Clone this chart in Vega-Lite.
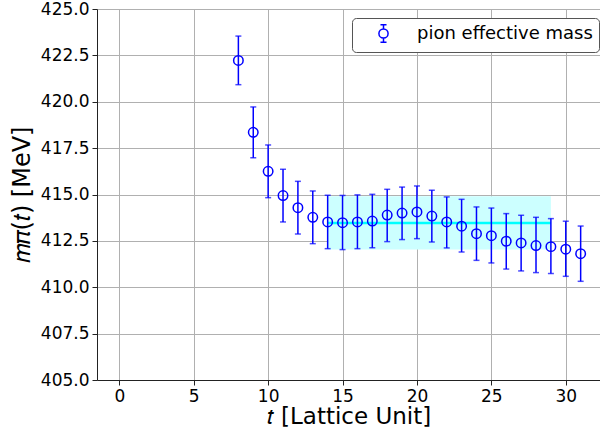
{
  "$schema": "https://vega.github.io/schema/vega-lite/v6.json",
  "autosize": "none",
  "width": 503,
  "height": 371,
  "padding": {"left": 97, "top": 9, "right": 0, "bottom": 50},
  "background": "white",
  "config": {
    "font": "DejaVu Sans",
    "view": {"stroke": null},
    "axis": {
      "labelFont": "DejaVu Sans",
      "titleFont": "DejaVu Sans",
      "labelFontSize": 17,
      "titleFontSize": 24,
      "titleFontWeight": "normal",
      "labelColor": "black",
      "titleColor": "black",
      "domainColor": "#222",
      "tickColor": "#222",
      "gridColor": "#b0b0b0",
      "gridWidth": 1,
      "tickSize": 5,
      "labelPadding": 3
    }
  },
  "datasets": {
    "pts": [
      {"t": 8, "m": 422.23, "lo": 420.92, "hi": 423.54, "series": "pion effective mass"},
      {"t": 9, "m": 418.35, "lo": 416.98, "hi": 419.72, "series": "pion effective mass"},
      {"t": 10, "m": 416.25, "lo": 414.83, "hi": 417.67, "series": "pion effective mass"},
      {"t": 11, "m": 414.94, "lo": 413.52, "hi": 416.36, "series": "pion effective mass"},
      {"t": 12, "m": 414.29, "lo": 412.87, "hi": 415.71, "series": "pion effective mass"},
      {"t": 13, "m": 413.77, "lo": 412.35, "hi": 415.19, "series": "pion effective mass"},
      {"t": 14, "m": 413.52, "lo": 412.08, "hi": 414.96, "series": "pion effective mass"},
      {"t": 15, "m": 413.48, "lo": 412.03, "hi": 414.95, "series": "pion effective mass"},
      {"t": 16, "m": 413.52, "lo": 412.08, "hi": 414.98, "series": "pion effective mass"},
      {"t": 17, "m": 413.57, "lo": 412.13, "hi": 415.01, "series": "pion effective mass"},
      {"t": 18, "m": 413.89, "lo": 412.46, "hi": 415.28, "series": "pion effective mass"},
      {"t": 19, "m": 414.0, "lo": 412.57, "hi": 415.4, "series": "pion effective mass"},
      {"t": 20, "m": 414.06, "lo": 412.62, "hi": 415.46, "series": "pion effective mass"},
      {"t": 21, "m": 413.84, "lo": 412.44, "hi": 415.23, "series": "pion effective mass"},
      {"t": 22, "m": 413.52, "lo": 412.12, "hi": 414.87, "series": "pion effective mass"},
      {"t": 23, "m": 413.29, "lo": 411.9, "hi": 414.74, "series": "pion effective mass"},
      {"t": 24, "m": 412.89, "lo": 411.45, "hi": 414.33, "series": "pion effective mass"},
      {"t": 25, "m": 412.78, "lo": 411.31, "hi": 414.27, "series": "pion effective mass"},
      {"t": 26, "m": 412.48, "lo": 410.98, "hi": 413.97, "series": "pion effective mass"},
      {"t": 27, "m": 412.39, "lo": 410.88, "hi": 413.88, "series": "pion effective mass"},
      {"t": 28, "m": 412.25, "lo": 410.79, "hi": 413.77, "series": "pion effective mass"},
      {"t": 29, "m": 412.19, "lo": 410.74, "hi": 413.7, "series": "pion effective mass"},
      {"t": 30, "m": 412.05, "lo": 410.59, "hi": 413.56, "series": "pion effective mass"},
      {"t": 31, "m": 411.81, "lo": 410.32, "hi": 413.3, "series": "pion effective mass"}
    ],
    "fit": [
      {"t0": 14, "t1": 29, "lo": 412.03, "hi": 414.9, "m": 413.47}
    ]
  },
  "layer": [
    {
      "data": {"name": "fit"},
      "mark": {"type": "rect", "fill": "#ccffff", "stroke": null},
      "encoding": {
        "x": {"field": "t0", "type": "quantitative", "scale": {"domain": [-1.5, 32.3], "nice": false, "zero": false},
          "axis": {"title": "𝑡 [Lattice Unit]", "values": [0, 5, 10, 15, 20, 25, 30], "grid": true, "titlePadding": 1, "titleFontSize": 23}},
        "x2": {"field": "t1"},
        "y": {"field": "lo", "type": "quantitative", "scale": {"domain": [405, 425], "nice": false, "zero": false},
          "axis": {"title": "𝑚𝜋(𝑡) [MeV]", "values": [405, 407.5, 410, 412.5, 415, 417.5, 420, 422.5, 425], "format": ".1f", "grid": true, "titlePadding": 6}},
        "y2": {"field": "hi"}
      }
    },
    {
      "data": {"name": "fit"},
      "mark": {"type": "rule", "color": "#00ffff", "strokeWidth": 2.5},
      "encoding": {
        "x": {"field": "t0", "type": "quantitative"},
        "x2": {"field": "t1"},
        "y": {"field": "m", "type": "quantitative"}
      }
    },
    {
      "data": {"name": "pts"},
      "mark": {"type": "rule", "color": "#0000ff", "strokeWidth": 1.5},
      "encoding": {
        "x": {"field": "t", "type": "quantitative"},
        "y": {"field": "lo", "type": "quantitative"},
        "y2": {"field": "hi"}
      }
    },
    {
      "data": {"name": "pts"},
      "mark": {"type": "tick", "orient": "horizontal", "color": "#0000ff", "thickness": 1.5, "size": 6},
      "encoding": {
        "x": {"field": "t", "type": "quantitative"},
        "y": {"field": "lo", "type": "quantitative"}
      }
    },
    {
      "data": {"name": "pts"},
      "mark": {"type": "tick", "orient": "horizontal", "color": "#0000ff", "thickness": 1.5, "size": 6},
      "encoding": {
        "x": {"field": "t", "type": "quantitative"},
        "y": {"field": "hi", "type": "quantitative"}
      }
    },
    {
      "data": {"name": "pts"},
      "mark": {"type": "point", "shape": "circle", "filled": false, "strokeWidth": 1.5, "size": 90, "opacity": 1},
      "encoding": {
        "x": {"field": "t", "type": "quantitative"},
        "y": {"field": "m", "type": "quantitative"},
        "color": {"field": "series", "type": "nominal", "scale": {"range": ["#0000ff"]},
          "legend": {
            "title": null,
            "orient": "none",
            "legendX": 255,
            "legendY": 9,
            "labelFontSize": 18,
            "labelFont": "DejaVu Sans",
            "labelColor": "black",
            "labelLimit": 400,
            "symbolOffset": 16,
            "labelOffset": 24,
            "symbolType": "M-0.53,0A0.53,0.53 0 1,1 0.53,0A0.53,0.53 0 1,1 -0.53,0M0,-0.53L0,-1M0,0.53L0,1M-0.35,-1L0.35,-1M-0.35,1L0.35,1",
            "symbolSize": 300,
            "symbolStrokeWidth": 1.5,
            "symbolFillColor": "transparent",
            "symbolStrokeColor": "#0000ff",
            "fillColor": "white",
            "strokeColor": "#555555",
            "cornerRadius": 4,
            "padding": 6
          }
        }
      }
    }
  ]
}
